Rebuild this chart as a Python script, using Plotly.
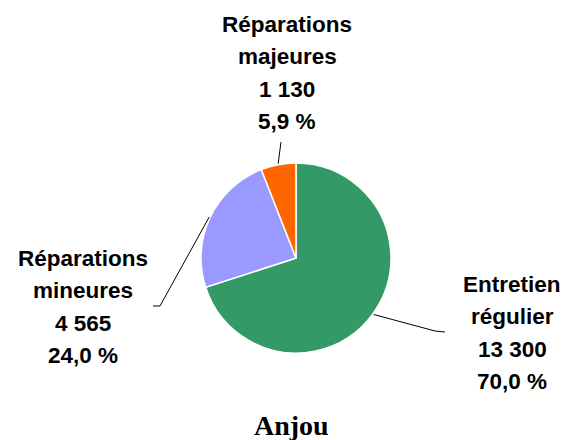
import math
import plotly.graph_objects as go

# ---- data ----
categories = ["Entretien régulier", "Réparations mineures", "Réparations majeures"]
label_lines = [["Entretien", "régulier"], ["Réparations", "mineures"], ["Réparations", "majeures"]]
values = [13300, 4565, 1130]
colors = ["#339966", "#9999FF", "#FF6600"]
chart_title = "Anjou"

# ---- layout constants (pixels) ----
W, H = 570, 440
CX, CY, R = 296, 258, 95
FS = 22.5
LINE_GAP = 32.3
# label anchor: (centre x, first baseline y)
label_pos = [(512, 292), (83, 266), (287, 32)]
# leader end points (elbow, end)
leader_ends = [[(435, 331), (445, 332)], [(160, 306), (153, 306)], [(281, 142)]]


def px(x):
    return x / W


def py(y):
    return 1 - y / H


def fmt_int(v):
    return f"{v:,}".replace(",", " ")


total = sum(values)
pcts = [v / total * 100 for v in values]

fig = go.Figure(
    go.Pie(
        labels=categories,
        values=values,
        sort=False,
        direction="clockwise",
        rotation=0,
        marker=dict(colors=colors, line=dict(color="white", width=1.5)),
        textinfo="none",
        showlegend=False,
        domain=dict(x=[px(CX - R), px(CX + R)], y=[py(CY + R), py(CY - R)]),
    )
)

annotations = []
shapes = []
cum = 0.0
for i, v in enumerate(values):
    frac_mid = (cum + v / 2) / total
    cum += v
    ang = 2 * math.pi * frac_mid
    sx = CX + (R + 1) * math.sin(ang)
    sy = CY - (R + 1) * math.cos(ang)
    pts = [(sx, sy)] + leader_ends[i]
    path = "M " + " L ".join(f"{px(a):.5f},{py(b):.5f}" for a, b in pts)
    shapes.append(dict(type="path", xref="paper", yref="paper", path=path,
                       line=dict(color="black", width=1)))

    lines = label_lines[i] + [fmt_int(v), f"{pcts[i]:.1f}".replace(".", ",") + " %"]
    lx, ly = label_pos[i]
    for k, t in enumerate(lines):
        base = ly + k * LINE_GAP
        annotations.append(dict(
            text=f"<b>{t}</b>", x=px(lx), y=py(base - 0.33 * FS),
            xref="paper", yref="paper", xanchor="center", yanchor="middle",
            showarrow=False,
            font=dict(family="Liberation Sans, Arial, sans-serif", size=FS, color="black"),
        ))

annotations.append(dict(
    text=f"<b>{chart_title}</b>", x=px(291.5), y=py(435 - 0.33 * 28),
    xref="paper", yref="paper", xanchor="center", yanchor="middle", showarrow=False,
    font=dict(family="Liberation Serif, Times New Roman, serif", size=28, color="black"),
))

fig.update_layout(
    width=W, height=H,
    margin=dict(l=0, r=0, t=0, b=0),
    paper_bgcolor="white", plot_bgcolor="white",
    annotations=annotations, shapes=shapes,
)

fig.write_html(
    "out.html",
    config={"displayModeBar": False},
    post_script="document.body.style.margin='0';document.body.style.overflow='hidden';",
)
